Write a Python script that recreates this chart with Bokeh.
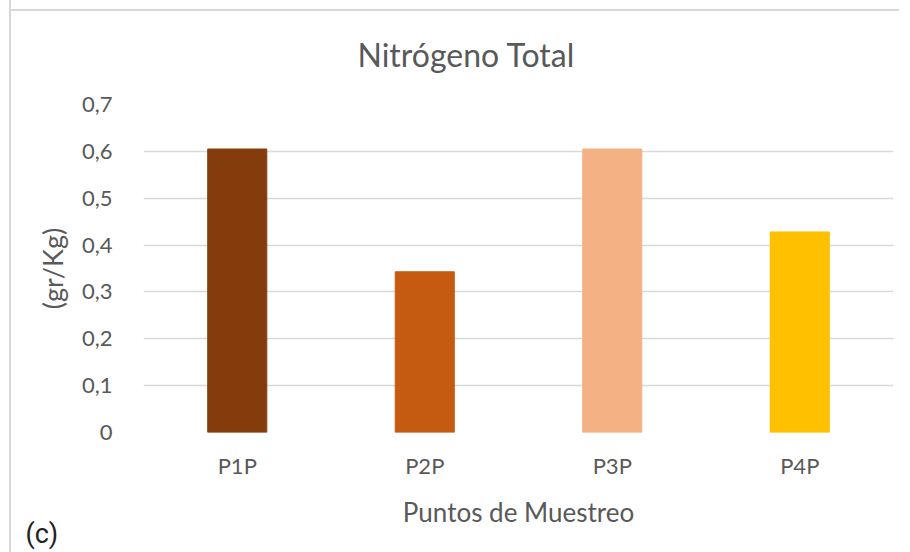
from bokeh.plotting import figure
from bokeh.models import FactorRange, FixedTicker, CustomJSTickFormatter, Title, Range1d, ColumnDataSource
from bokeh.embed import file_html
from bokeh.resources import INLINE

categories = ["P1P", "P2P", "P3P", "P4P"]
values = [0.605, 0.343, 0.605, 0.428]
colors = ["#843C0C", "#C55A11", "#F4B183", "#FFC000"]
y_ticks = [0, 0.1, 0.2, 0.3, 0.4, 0.5, 0.6, 0.7]
title_text = "Nitrógeno Total"
x_label = "Puntos de Muestreo"
y_label = "(gr/Kg)"
panel_tag = "(c)"

FONT = "Lato"
GRAY = "#595959"

src = ColumnDataSource(dict(cat=categories, val=values, color=colors))

W, H = 890, 552
MBL, MBR, MBT, MBB = 132, 8, 104, 120
p = figure(width=W, height=H, output_backend="svg", toolbar_location=None,
           x_range=FactorRange(*categories, range_padding=0),
           y_range=Range1d(0, 0.7),
           min_border_left=MBL, min_border_right=MBR, min_border_top=MBT, min_border_bottom=MBB,
           styles={"margin-left": "9px",
                   "border-left": "2px solid #d9d9d9",
                   "background-color": "white",
                   "background-image": "linear-gradient(#d9d9d9, #d9d9d9)",
                   "background-size": "100% 2px",
                   "background-position": "0 9px",
                   "background-repeat": "no-repeat",
                   "background-origin": "border-box"})
p.border_fill_color = None
p.outline_line_color = None
p.vbar(x="cat", top="val", width=0.315, color="color", source=src)

p.yaxis.ticker = FixedTicker(ticks=y_ticks)
p.yaxis.formatter = CustomJSTickFormatter(code="return tick == 0 ? '0' : tick.toFixed(1).replace('.', ',');")
for ax in (p.xaxis[0], p.yaxis[0]):
    ax.axis_line_color = None
    ax.major_tick_line_color = None
    ax.minor_tick_line_color = None
    ax.major_label_text_font = FONT
    ax.major_label_text_font_size = "22px"
    ax.major_label_text_color = GRAY
    ax.axis_label_text_font = FONT
    ax.axis_label_text_font_style = "normal"
    ax.axis_label_text_color = GRAY
p.xaxis.axis_label_text_font_size = "26px"
p.yaxis.axis_label_text_font_size = "27px"
p.yaxis.major_label_standoff = 25
p.xaxis.major_label_standoff = 13
p.yaxis.axis_label = y_label
p.xaxis.axis_label = x_label
p.yaxis.axis_label_standoff = 10
p.xaxis.axis_label_standoff = 14

p.xgrid.grid_line_color = None
p.ygrid.grid_line_color = "#d9d9d9"
p.ygrid.grid_line_width = 1.5

p.add_layout(Title(text=title_text, align="left", offset=214, standoff=62,
                   text_font=FONT, text_font_size="32px", text_color=GRAY,
                   text_font_style="normal"), "above")
p.add_layout(Title(text=panel_tag, align="left", offset=-118, standoff=-38,
                   text_font="Roboto", text_font_size="27px", text_color="#222222",
                   text_font_style="normal"), "below")

open("out.html", "w").write(file_html(p, INLINE))
